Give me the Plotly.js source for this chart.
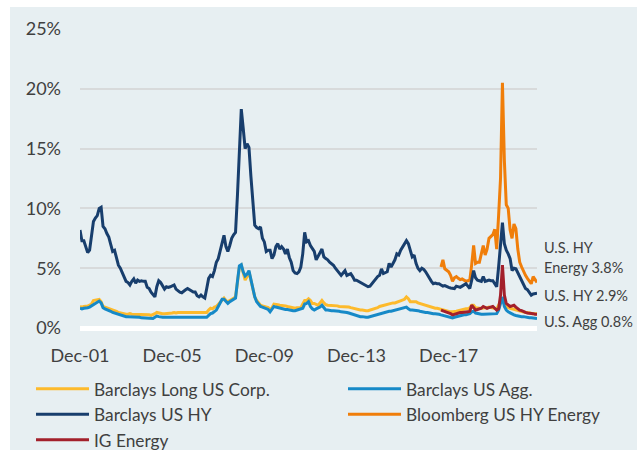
<!DOCTYPE html>
<html>
<head>
<meta charset="utf-8">
<script src="https://cdn.plot.ly/plotly-3.0.1.min.js"></script>
<style>
  html, body { margin: 0; padding: 0; background: #fff; }
  #chart { position: absolute; left: 10px; top: 7px; width: 627px; height: 443px; }
</style>
</head>
<body>
<div id="chart"></div>
<script>
// monthly readings, Dec-2001 .. Oct-2021, in percent
const tickLabels = ["Dec-01", "Dec-05", "Dec-09", "Dec-13", "Dec-17"];
const tickMonths = [0, 48, 96, 144, 192];

const longCorp = [
  1.8, 1.75, 1.8, 1.8, 1.85, 1.9, 2.0, 2.3, 2.35, 2.4, 2.4, 2.2,
  1.8, 1.75, 1.7, 1.65, 1.55, 1.5, 1.45, 1.4, 1.3, 1.25, 1.2, 1.2,
  1.15, 1.15, 1.2, 1.15, 1.15, 1.1, 1.15, 1.15, 1.15, 1.1, 1.1, 1.1,
  1.1, 1.05, 1.1, 1.2, 1.3, 1.25, 1.2, 1.2, 1.2, 1.2, 1.25, 1.25,
  1.25, 1.3, 1.25, 1.3, 1.3, 1.25, 1.3, 1.3, 1.3, 1.3, 1.3, 1.3,
  1.3, 1.3, 1.25, 1.3, 1.3, 1.3, 1.3, 1.5, 1.65, 1.6, 1.75, 1.8,
  2.0, 2.2, 2.4, 2.5, 2.3, 2.2, 2.3, 2.4, 2.5, 2.6, 3.8, 5.1,
  5.25, 4.6, 4.0, 4.3, 4.7, 4.0, 3.2, 2.6, 2.3, 2.1, 1.9, 1.85,
  1.8, 1.8, 1.7, 1.5, 1.7, 2.0, 2.0, 1.95, 1.9, 1.9, 1.85, 1.85,
  1.8, 1.75, 1.7, 1.65, 1.65, 1.7, 1.7, 1.7, 2.0, 2.3, 2.3, 2.45,
  2.3, 2.05, 2.05, 1.95, 1.9, 2.1, 2.3, 2.1, 1.95, 1.9, 1.9, 1.9,
  1.9, 1.9, 1.85, 1.8, 1.8, 1.8, 1.8, 1.8, 1.75, 1.7, 1.65, 1.6,
  1.6, 1.55, 1.5, 1.5, 1.45, 1.45, 1.45, 1.5, 1.55, 1.55, 1.6, 1.7,
  1.8, 1.85, 1.9, 1.95, 2.0, 2.0, 2.05, 2.1, 2.1, 2.15, 2.2, 2.25,
  2.3, 2.4, 2.6, 2.45, 2.2, 2.2, 2.2, 2.2, 2.1, 2.05, 1.95, 1.9,
  1.85, 1.8, 1.75, 1.7, 1.65, 1.65, 1.65, 1.6, 1.55, 1.5, 1.45, 1.4,
  1.4, 1.35, 1.35, 1.35, 1.4, 1.45, 1.5, 1.5, 1.55, 1.6, 1.6, 1.7,
  1.9, 1.9, 1.7, 1.65, 1.65, 1.65, 1.7, 1.7, 1.7, 1.75, 1.7, 1.65,
  1.6, 1.6, 1.9, 2.2, 2.5, 2.0, 1.8, 1.7, 1.65, 1.6, 1.6, 1.55,
  1.45, 1.4, 1.35, 1.35, 1.3, 1.3, 1.25, 1.25, 1.2, 1.2, 1.2
];

const usAgg = [
  1.65, 1.6, 1.65, 1.65, 1.7, 1.75, 1.85, 2.0, 2.05, 2.15, 2.25, 2.1,
  1.7, 1.6, 1.55, 1.5, 1.4, 1.3, 1.25, 1.2, 1.1, 1.05, 1.0, 1.0,
  0.95, 0.95, 0.95, 0.9, 0.9, 0.9, 0.9, 0.9, 0.85, 0.85, 0.85, 0.8,
  0.8, 0.8, 0.8, 0.9, 1.0, 0.95, 0.9, 0.9, 0.9, 0.9, 0.9, 0.9,
  0.9, 0.9, 0.9, 0.9, 0.9, 0.9, 0.9, 0.9, 0.9, 0.9, 0.9, 0.9,
  0.9, 0.9, 0.85, 0.9, 0.9, 0.9, 0.9, 1.05, 1.2, 1.25, 1.4, 1.5,
  1.8, 2.1, 2.4, 2.4, 2.2, 2.05, 2.2, 2.3, 2.4, 2.5, 3.9, 5.2,
  5.3, 4.7, 4.35, 4.5, 4.8, 4.0, 3.2, 2.6, 2.2, 1.95, 1.8, 1.75,
  1.7, 1.65, 1.55, 1.35, 1.55, 1.8, 1.75, 1.7, 1.65, 1.6, 1.6, 1.55,
  1.55, 1.5, 1.5, 1.45, 1.45, 1.5, 1.5, 1.55, 1.65, 2.0, 2.05, 2.2,
  1.8, 1.6, 1.5, 1.6, 1.65, 1.75, 1.9, 1.7, 1.5, 1.5, 1.45, 1.45,
  1.45, 1.45, 1.4, 1.4, 1.35, 1.35, 1.3, 1.3, 1.25, 1.2, 1.1, 1.05,
  1.0, 1.0, 0.95, 0.95, 0.9, 0.9, 0.9, 0.95, 1.0, 1.05, 1.1, 1.15,
  1.2, 1.25, 1.3, 1.35, 1.35, 1.4, 1.4, 1.45, 1.5, 1.5, 1.55, 1.6,
  1.65, 1.7, 1.75, 1.6, 1.5, 1.5, 1.5, 1.45, 1.45, 1.4, 1.35, 1.35,
  1.3, 1.3, 1.25, 1.25, 1.2, 1.2, 1.2, 1.15, 1.1, 1.05, 1.0, 0.95,
  0.9, 0.85, 0.85, 0.9, 0.95, 1.0, 1.0, 1.05, 1.1, 1.1, 1.15, 1.2,
  1.35, 1.4, 1.25, 1.2, 1.15, 1.15, 1.15, 1.15, 1.15, 1.15, 1.15, 1.15,
  1.15, 1.2, 1.5, 2.0, 2.6, 1.8, 1.5, 1.35, 1.25, 1.2, 1.1, 1.05,
  1.0, 1.0, 0.95, 0.95, 0.9, 0.9, 0.85, 0.85, 0.85, 0.8, 0.8
];

const usHY = [
  8.2, 7.3, 7.3, 6.8, 6.3, 6.5, 7.6, 8.9, 9.2, 9.4, 10.0, 10.1,
  8.5, 8.3, 7.9, 7.6, 7.0, 6.4, 6.5, 5.8, 5.25, 5.0, 4.6, 4.3,
  3.9, 3.8, 3.6, 3.9, 4.1, 3.75, 4.0, 3.9, 3.95, 3.9, 3.9, 3.4,
  3.3, 3.0, 2.8, 2.6, 3.45, 3.95, 3.8, 3.5, 3.25, 3.45, 3.4, 3.45,
  3.55, 3.6, 3.25, 3.1, 3.0, 2.95, 3.1, 3.2, 3.3, 3.2, 3.1, 3.0,
  3.0, 2.7, 2.6, 2.75, 2.6, 2.5, 3.3, 4.15, 4.4, 4.3, 4.8, 5.5,
  5.8, 6.5, 7.2, 7.75, 6.8, 6.4, 6.9, 7.5, 7.8, 8.0, 11.1, 14.7,
  18.3, 16.7, 15.0, 15.4, 15.1, 12.7, 10.5, 8.6, 8.4, 8.3, 8.45, 7.5,
  7.2, 6.4, 6.5, 6.5, 5.8, 6.1, 6.8, 7.05, 6.6, 6.8, 6.6, 6.2,
  6.6, 5.9, 5.5, 4.8, 4.6, 4.55, 4.7, 5.1, 6.2, 8.0, 7.2, 7.3,
  6.9, 6.6, 6.4, 5.7, 5.95, 6.3, 6.6, 5.95, 5.8, 5.7, 5.5, 5.4,
  5.25, 5.0, 4.8, 4.55, 4.4, 4.6, 4.8, 4.4, 4.5, 4.55, 4.3, 4.0,
  4.0, 3.9, 3.8, 3.7, 3.6, 3.55, 3.45, 3.5, 3.7, 3.9, 4.15, 4.3,
  4.4, 4.95, 4.55, 4.6, 4.7, 5.4, 5.1, 5.4, 5.7, 6.2, 6.1, 6.5,
  6.8, 7.1, 7.3, 7.05, 6.4, 5.95, 6.1, 5.4, 5.0, 4.8, 5.0, 4.9,
  4.7, 4.4, 4.1, 3.9, 3.7, 3.75, 3.7, 3.7, 3.6, 3.5, 3.55, 3.45,
  3.4, 3.35, 3.3, 3.3, 3.5, 3.45, 3.4, 3.5, 3.6, 3.7, 3.5, 3.3,
  4.0, 4.8, 4.2, 4.0, 3.95, 3.9, 4.3, 3.9, 3.95, 4.0, 3.95, 3.95,
  3.7, 3.45, 5.1, 7.05, 8.8, 7.05, 6.5, 6.2, 5.8, 4.8, 5.0, 4.95,
  4.6, 4.3, 3.9, 3.6, 3.3, 3.2, 2.95, 2.75, 2.85, 2.9, 2.9
];

// the two energy series start in Aug-2017 (month 188)
const energyStart = 188;
const hyEnergy = [
  5.1, 5.7, 4.95, 4.8, 4.7, 4.4, 3.9, 4.2, 4.3, 4.15, 4.05, 4.1,
  4.0, 3.9, 3.95, 4.0, 5.3, 6.9, 5.4, 5.5, 5.5, 6.2, 6.9, 6.1,
  6.6, 7.5, 7.7, 7.8, 8.25, 6.6, 9.4, 12.5, 20.5, 14.0, 10.3, 10.0,
  8.2, 7.5, 8.7, 8.3, 6.6, 5.5, 5.1, 4.7, 4.4, 4.15, 3.9, 3.7,
  4.3, 4.0, 3.8
];
const igEnergy = [
  1.5, 1.45, 1.4, 1.35, 1.3, 1.2, 1.1, 1.15, 1.25, 1.3, 1.3, 1.3,
  1.3, 1.3, 1.35, 1.4, 1.9, 1.7, 1.5, 1.55, 1.6, 1.65, 1.8, 1.75,
  1.65, 1.7, 1.75, 1.8, 1.65, 1.5, 1.6, 2.75, 5.25, 2.75, 2.05, 1.95,
  1.8, 1.85, 1.9, 1.75, 1.6, 1.5, 1.45, 1.35, 1.3, 1.25, 1.25, 1.2,
  1.2, 1.15, 1.15
];

const FONT = 'Lato, "Open Sans", sans-serif';
const TEXT = '#404040';

const months = usHY.map((_, i) => i);
const energyMonths = hyEnergy.map((_, i) => energyStart + i);

function line(name, x, y, color, legend) {
  return {
    x: x, y: y, name: name, type: 'scatter', mode: 'lines',
    line: { color: color, width: 3 },
    legend: legend, hoverinfo: 'skip'
  };
}

// drawing order: HY over HY Energy, IG Energy on top; legends keep the original columns
const traces = [
  line('Barclays Long US Corp.', months, longCorp, '#FDBA2C', 'legend'),
  line('Barclays US Agg.', months, usAgg, '#1689C7', 'legend2'),
  line('Bloomberg US HY Energy', energyMonths, hyEnergy, '#F07E0A', 'legend2'),
  line('Barclays US HY', months, usHY, '#183E6D', 'legend'),
  line('IG Energy', energyMonths, igEnergy, '#A3202B', 'legend')
];

const last = arr => arr[arr.length - 1].toFixed(1) + '%';

function note(text, y) {
  return {
    text: text, xref: 'paper', yref: 'paper', x: 1.01, y: y,
    xanchor: 'left', yanchor: 'middle', showarrow: false,
    font: { family: FONT, size: 14.5, color: TEXT }
  };
}

const legendBase = {
  orientation: 'v', xanchor: 'left', yanchor: 'top',
  bgcolor: 'rgba(0,0,0,0)', itemwidth: 53,
  font: { family: FONT, size: 17.3, color: TEXT }
};

const layout = {
  width: 627, height: 443,
  margin: { l: 70, r: 100, t: 22, b: 122, autoexpand: false },
  paper_bgcolor: '#E7EFF2',
  plot_bgcolor: '#E7EFF2',
  font: { family: FONT, color: TEXT },
  xaxis: {
    range: [0, 238],
    tickvals: tickMonths, ticktext: tickLabels,
    showgrid: false, zeroline: false, showline: false, ticks: '',
    ticklabelstandoff: 15,
    tickfont: { family: FONT, size: 18, color: TEXT }
  },
  yaxis: {
    range: [0, 25], dtick: 5, ticksuffix: '%',
    showgrid: true, gridcolor: '#D8DADB', gridwidth: 2,
    zeroline: true, zerolinecolor: '#FFFFFF', zerolinewidth: 5,
    showline: false, ticks: '',
    ticklabelstandoff: 18,
    tickfont: { family: FONT, size: 18, color: TEXT }
  },
  legend: Object.assign({ x: -0.1072, y: -0.1442 }, legendBase),
  legend2: Object.assign({ x: 0.5755, y: -0.1442 }, legendBase),
  annotations: [
    note('U.S. HY', 0.268),
    note('Energy ' + last(hyEnergy), 0.204),
    note('U.S. HY ' + last(usHY), 0.110),
    note('U.S. Agg ' + last(usAgg), 0.021)
  ]
};

Plotly.newPlot('chart', traces, layout, { displayModeBar: false, staticPlot: true });
</script>
</body>
</html>
